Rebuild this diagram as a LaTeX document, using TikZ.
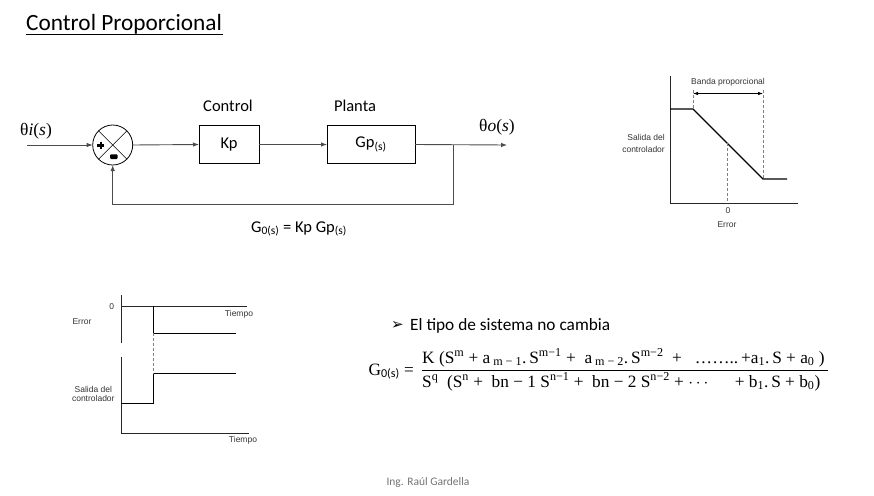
\documentclass[tikz,border=0pt]{standalone}
\usepackage{fontspec}
\setmainfont{Carlito}
\newfontfamily\cam{Liberation Serif}
\newfontfamily\carl{Carlito}
\newfontfamily\ars{Liberation Sans}
\newfontfamily\dv{DejaVu Sans}
\usetikzlibrary{arrows.meta}
\newcommand\supx[1]{\textsuperscript{#1}}
\newcommand\subx[1]{\textsubscript{#1}}
\begin{document}
\begin{tikzpicture}[x=1pt,y=-1pt,
  blk/.style={draw=black, line width=0.9pt, minimum width=60pt, minimum height=37.5pt, inner sep=0pt, outer sep=0pt, font=\fontsize{16.5}{18}\selectfont},
  sig/.style={draw=black!70, line width=0.9pt},
  arr/.style={sig, -{Latex[length=6pt,width=4.5pt]}},
  lbl/.style={font=\fontsize{16.5}{18}\selectfont, inner sep=0pt},
  sm/.style={font=\ars\fontsize{8.5}{10}\selectfont, inner sep=0pt, text=black!80},
  ax/.style={draw=black!85, line width=0.8pt},
  crv/.style={draw=black, line width=1.1pt},
  dsh/.style={draw=black!50, line width=0.5pt, dash pattern=on 3pt off 2pt},
  fml/.style={font=\cam\fontsize{17.3}{19}\selectfont, inner sep=0pt},
]
\useasboundingbox (0,0) rectangle (874,495);

% title
\node[anchor=base west, inner sep=0pt, font=\fontsize{23.3}{26}\selectfont] (title) at (26,30.7) {Control Proporcional};
\coordinate (ul1) at (26,34.5);
\coordinate (ul2) at (223,34.5);
\draw[line width=1pt] (ul1) -- (ul2);

% block diagram
\coordinate (in) at (27,145);
\node[circle, draw=black, line width=0.8pt, minimum size=40pt, inner sep=0pt, outer sep=0pt] (sum) at (112.7,145) {};
\draw[line width=0.6pt] (sum.north west) -- (sum.south east);
\draw[line width=0.6pt] (sum.north east) -- (sum.south west);
\draw[line width=2.3pt] (97.3,145.5) -- (104.3,145.5);
\draw[line width=2.3pt] (100.8,141.7) -- (100.8,149.3);
\fill[rounded corners=1pt] (110,154.3) rectangle (117.7,159);

\node[blk] (kp) at (229,144.5) {Kp};
\node[blk, minimum width=88pt] (gp) at (371,144.5) {Gp\subx{(s)}};
\node[lbl] (lc) at (228,106) {Control};
\node[lbl] (lp) at (355,106) {Planta};

\coordinate (out) at (507,145);
\coordinate (br) at (453,145);
\coordinate (fb1) at (453,204);
\coordinate (fb2) at (112.7,204);

\draw[arr] (in) -- (sum.west);
\draw[arr] (sum.east) -- (kp.west);
\draw[arr] (kp.east) -- (gp.west);
\draw[arr] (gp.east) -- (out);
\draw[arr] (br) -- (fb1) -- (fb2) -- (sum.south);

\node[lbl, font=\cam\fontsize{17.5}{19}\selectfont] (thi) at (36,131) {θ\textit{i}(\textit{s})};
\node[lbl, font=\cam\fontsize{17.5}{19}\selectfont] (tho) at (497,127) {θ\textit{o}(\textit{s})};
\node[lbl] (g0) at (299,229) {G\subx{0(s)} = Kp Gp\subx{(s)}};

% right graph
\coordinate (ra0) at (670,76);
\coordinate (ro) at (670,203);
\coordinate (rx) at (798,203);
\coordinate (r1) at (670,109);
\coordinate (r2) at (693,109);
\coordinate (r3) at (763,179);
\coordinate (r4) at (787,179);
\draw[ax] (ra0) -- (ro) -- (rx);
\draw[crv] (r1) -- (r2) -- (r3) -- (r4);
\coordinate (d1) at (693,90);
\coordinate (d2) at (763,90);
\coordinate (mt) at (727.3,143);
\coordinate (mb) at (727.3,203);
\draw[dsh] (d1) -- (r2);
\draw[dsh] (d2) -- (r3);
\draw[dsh] (mt) -- (mb);
\coordinate (b1) at (693,93.5);
\coordinate (b2) at (763,93.5);
\draw[draw=black, line width=0.8pt, {Latex[length=5pt,width=3.5pt]}-{Latex[length=5pt,width=3.5pt]}] (b1) -- (b2);
\node[sm] (band) at (728,82) {Banda proporcional};
\node[sm] (r0) at (728,211) {0};
\node[sm] (rerr) at (727,225) {Error};
\node[sm, anchor=east] (rs1) at (665,137) {Salida del};
\node[sm, anchor=east] (rs2) at (665,149) {controlador};

% bottom-left graph
\coordinate (u0) at (121,295);
\coordinate (u1) at (121,343);
\draw[ax] (u0) -- (u1);
\coordinate (z0) at (121,306);
\coordinate (z1) at (247,306);
\draw[ax] (z0) -- (z1);
\coordinate (e1) at (153,306);
\coordinate (e2) at (153,333);
\coordinate (e3) at (236,333);
\draw[crv, line width=0.9pt] (e1) -- (e2) -- (e3);
\coordinate (l0) at (121,357);
\coordinate (l1) at (121,433);
\coordinate (l2) at (249,433);
\draw[ax] (l0) -- (l1) -- (l2);
\coordinate (c1) at (121,403.3);
\coordinate (c2) at (153,403.3);
\coordinate (c3) at (153,373.3);
\coordinate (c4) at (236,373.3);
\draw[crv, line width=0.9pt] (c1) -- (c2) -- (c3) -- (c4);
\draw[dsh] (e2) -- (c3);
\node[sm] (b0) at (111.7,306.7) {0};
\node[sm] (bt1) at (239,314) {Tiempo};
\node[sm] (berr) at (82,322) {Error};
\node[sm] (bt2) at (243,440) {Tiempo};
\node[sm] (bs1) at (93.3,389.3) {Salida del};
\node[sm] (bs2) at (93.3,398.3) {controlador};

% bullet text
\node[anchor=base west, inner sep=0pt, font=\dv\fontsize{15}{17}\selectfont] (bul) at (391,329.5) {➢};
\node[anchor=base west, inner sep=0pt, font=\fontsize{17.3}{19}\selectfont] (btxt) at (410,330) {El tipo de sistema no cambia};

% formula
\node[fml, anchor=base east] (gl) at (414,375) {G\subx{\carl 0(s)} =};
\node[fml, anchor=base west] (num) at (422,363) {K (S\supx{m} + a\,\subx{m − 1}.\,S\supx{m−1} +\ \ a\,\subx{m − 2}.\,S\supx{m−2}\ \ +\ \ \ ……..\,+a\subx{1}.\,S + a\subx{0}\ )};
\node[fml, anchor=base west] (den) at (422,387) {S\supx{q}\ \ (S\supx{n} +\ \ bn − 1 S\supx{n−1} +\ \ bn − 2 S\supx{n−2} + $\cdots$\hspace{22pt} + b\subx{1}.\,S + b\subx{0})};
\coordinate (fl1) at (422,370);
\coordinate (fl2) at (828,370);
\draw[line width=0.8pt] (fl1) -- (fl2);

% footer
\node[inner sep=0pt, font=\fontsize{11.5}{13}\selectfont, text=black!55] (ft) at (428,482) {Ing. Raúl Gardella};
\end{tikzpicture}
\end{document}
